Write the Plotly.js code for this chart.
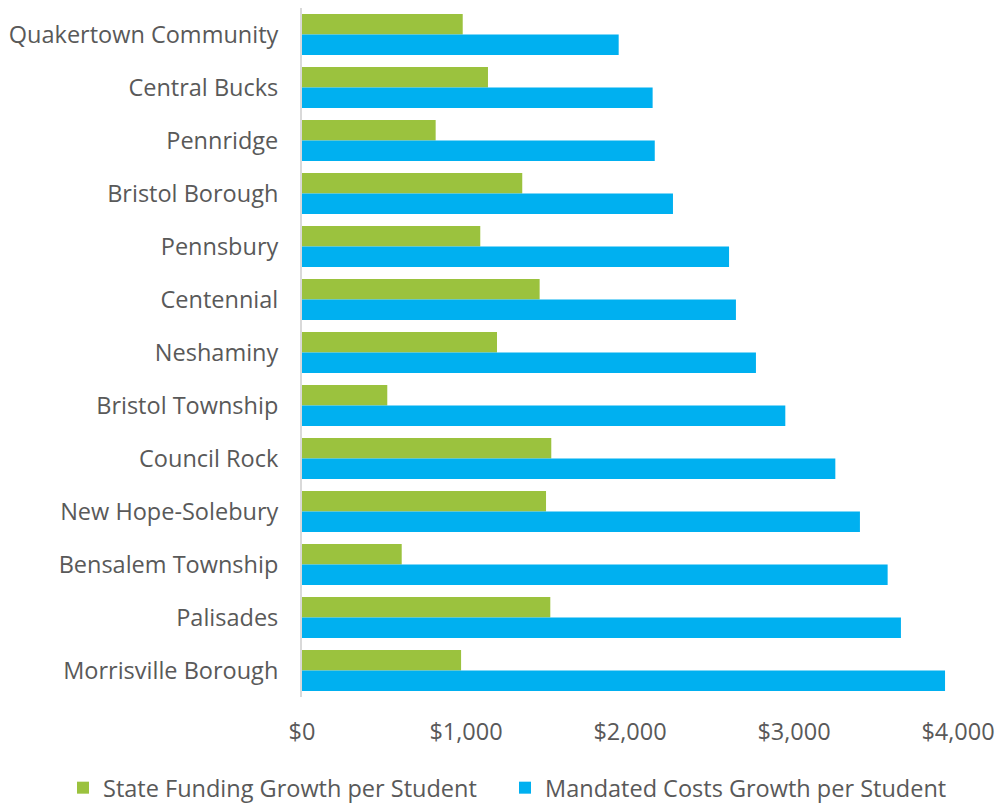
<!DOCTYPE html>
<html>
<head>
<meta charset="utf-8">
<script src="https://cdn.plot.ly/plotly-3.0.1.min.js"></script>
<style>
  html, body { margin: 0; padding: 0; background: #fff; }
  #plot { width: 999px; height: 804px; }
</style>
</head>
<body>
<div id="plot"></div>
<script>
var districts = ['Quakertown Community', 'Central Bucks', 'Pennridge', 'Bristol Borough',
  'Pennsbury', 'Centennial', 'Neshaminy', 'Bristol Township', 'Council Rock',
  'New Hope-Solebury', 'Bensalem Township', 'Palisades', 'Morrisville Borough'];
var stateFunding = [980, 1134, 815, 1343, 1087, 1449, 1189, 520, 1520, 1488, 608, 1514, 970];
var mandatedCosts = [1931, 2138, 2151, 2262, 2604, 2646, 2768, 2947, 3252, 3402, 3571, 3652, 3921];
var tickVals = [0, 1000, 2000, 3000, 4000];
var tickText = ['$0', '$1,000', '$2,000', '$3,000', '$4,000'];

var fontFam = '"Open Sans", sans-serif';

var trace1 = {
  y: districts,
  x: stateFunding,
  name: 'State Funding Growth per Student',
  orientation: 'h',
  type: 'bar',
  marker: {color: '#9BC23E'},
  hoverinfo: 'x+y'
};

var trace2 = {
  y: districts,
  x: mandatedCosts,
  name: 'Mandated Costs Growth per Student',
  orientation: 'h',
  type: 'bar',
  marker: {color: '#00B0F0'},
  hoverinfo: 'x+y'
};

var layout = {
  width: 999,
  height: 804,
  margin: {l: 302, r: 41, t: 8, b: 107, autoexpand: false},
  barmode: 'group',
  bargap: 0.226,
  bargroupgap: 0,
  font: {family: fontFam, size: 23.5, color: '#595959'},
  paper_bgcolor: '#fff',
  plot_bgcolor: '#fff',
  showlegend: true,
  legend: {
    orientation: 'h',
    x: -0.3643, xanchor: 'left',
    y: -0.1, yanchor: 'top',
    font: {family: fontFam, size: 23.5, color: '#595959'},
    itemwidth: 30,
    entrywidth: 397,
    traceorder: 'normal'
  },
  xaxis: {
    range: [0, 4000],
    tickvals: tickVals,
    ticktext: tickText,
    showgrid: false,
    zeroline: false,
    showline: false,
    ticks: '',
    ticklabelstandoff: 18,
    fixedrange: true
  },
  yaxis: {
    autorange: 'reversed',
    showgrid: false,
    zeroline: false,
    showline: true,
    linecolor: '#d9d9d9',
    linewidth: 2,
    ticks: '',
    ticklabelstandoff: 17,
    fixedrange: true
  }
};

Plotly.newPlot('plot', [trace1, trace2], layout, {displayModeBar: false, staticPlot: true});
</script>
</body>
</html>
